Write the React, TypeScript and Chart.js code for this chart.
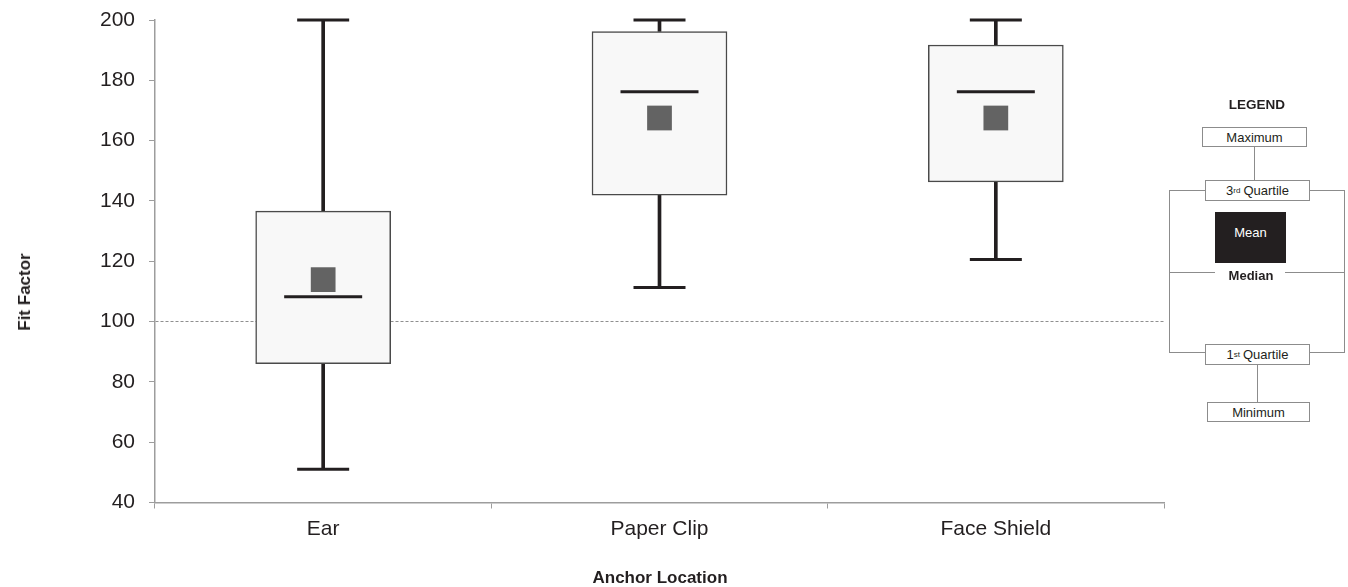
import React, { useEffect, useRef } from 'react';
import { Chart, registerables } from 'chart.js';

Chart.register(...registerables);

// ---- data ----
const categories = ['Ear', 'Paper Clip', 'Face Shield'];
const maximum = [200, 200, 200];
const thirdQuartile = [136.6, 196.2, 191.7];
const median = [108.2, 176.2, 176.2];
const mean = [113.9, 167.5, 167.5];
const firstQuartile = [86, 141.9, 146.3];
const minimum = [51, 111.3, 120.6];
const referenceValue = 100;
const yMin = 40;
const yMax = 200;
const yStep = 20;

// ---- styles ----
const INK = '#231f20';
const AXIS = '#9d9d9d';
const LEG = '#8c8c8c';
const FONT = "'Liberation Sans', Arial, Helvetica, sans-serif";

const abs = (s: React.CSSProperties): React.CSSProperties => ({ position: 'absolute', ...s });

const legendBox = (left: number, top: number, width: number, height: number): React.CSSProperties =>
  abs({
    left,
    top,
    width,
    height,
    boxSizing: 'border-box',
    border: `1px solid ${LEG}`,
    background: '#fff',
    display: 'flex',
    alignItems: 'center',
    justifyContent: 'center',
    fontFamily: FONT,
    fontSize: 13,
    color: INK,
    whiteSpace: 'nowrap',
  });

const hLine = (left: number, top: number, width: number): React.CSSProperties =>
  abs({ left, top, width, height: 1, background: LEG });
const vLine = (left: number, top: number, height: number): React.CSSProperties =>
  abs({ left, top, width: 1, height, background: LEG });

const supStyle: React.CSSProperties = { fontSize: 8, verticalAlign: 'top', lineHeight: '10px', marginRight: 3 };

export default function App() {
  const ref = useRef<HTMLCanvasElement>(null);

  useEffect(() => {
    const pointSet = (data: number[], style: string, radius: number, extra: any = {}) => ({
      type: 'line' as const,
      data,
      showLine: false,
      pointStyle: style,
      pointRadius: radius,
      pointHoverRadius: radius,
      pointBorderWidth: 3,
      pointBorderColor: INK,
      pointBackgroundColor: INK,
      clip: false,
      order: 1,
      ...extra,
    });

    const chart = new Chart(ref.current!, {
      type: 'bar',
      data: {
        labels: categories,
        datasets: [
          {
            type: 'bar',
            data: categories.map((_, i) => [minimum[i], firstQuartile[i]]),
            backgroundColor: INK,
            borderWidth: 0,
            barThickness: 3,
            grouped: false,
            order: 10,
          },
          {
            type: 'bar',
            data: categories.map((_, i) => [thirdQuartile[i], maximum[i]]),
            backgroundColor: INK,
            borderWidth: 0,
            barThickness: 3,
            grouped: false,
            order: 10,
          },
          {
            type: 'bar',
            data: categories.map((_, i) => [firstQuartile[i], thirdQuartile[i]]),
            backgroundColor: '#f8f8f8',
            borderColor: '#4a4a4a',
            borderWidth: 1.5,
            borderSkipped: false,
            barThickness: 135,
            grouped: false,
            order: 5,
          },
          pointSet(maximum, 'line', 26),
          pointSet(minimum, 'line', 26),
          pointSet(median, 'line', 39),
          pointSet(mean, 'rect', 17.5, {
            pointBorderWidth: 0,
            pointBackgroundColor: '#636363',
            pointBorderColor: '#636363',
          }),
        ] as any,
      },
      options: {
        animation: false,
        responsive: false,
        events: [],
        layout: { autoPadding: false, padding: { left: 0, right: 184, top: 20, bottom: 0 } },
        plugins: { legend: { display: false }, tooltip: { enabled: false }, title: { display: false } },
        scales: {
          x: {
            offset: true,
            grid: {
              offset: true,
              drawOnChartArea: false,
              drawTicks: true,
              tickLength: 6,
              tickColor: AXIS,
              tickWidth: 1,
            },
            border: { color: AXIS, width: 1.5 },
            ticks: {
              font: { family: FONT, size: 21 },
              color: INK,
              padding: 8,
              maxRotation: 0,
            },
            afterFit: (s: any) => {
              s.height = 84.5;
              s.paddingLeft = 0;
              s.paddingRight = 0;
            },
          },
          y: {
            min: yMin,
            max: yMax,
            grid: {
              drawTicks: true,
              tickLength: 6,
              tickColor: AXIS,
              tickWidth: 1,
              lineWidth: 1,
              color: (ctx: any) => (ctx.tick && ctx.tick.value === referenceValue ? '#8f8f8f' : 'rgba(0,0,0,0)'),
            },
            border: { color: AXIS, width: 1.5, dash: [3, 2] },
            ticks: {
              stepSize: yStep,
              font: { family: FONT, size: 21 },
              color: INK,
              padding: 14,
            },
            afterFit: (s: any) => {
              s.width = 155;
              s.paddingTop = 0;
              s.paddingBottom = 0;
            },
          },
        },
      } as any,
    });
    return () => chart.destroy();
  }, []);

  return (
    <div style={abs({ left: 0, top: 0, width: 1348, height: 587, background: '#fff', overflow: 'hidden' })}>
      <canvas ref={ref} width={1348} height={587} style={{ display: 'block', width: 1348, height: 587 }} />

      {/* axis titles */}
      <div
        style={abs({
          left: 25,
          top: 292,
          transform: 'translate(-50%, -50%) rotate(-90deg)',
          fontFamily: FONT,
          fontWeight: 'bold',
          fontSize: 17,
          color: INK,
          whiteSpace: 'nowrap',
        })}
      >
        Fit Factor
      </div>
      <div
        style={abs({
          left: 660,
          top: 578,
          transform: 'translate(-50%, -50%)',
          fontFamily: FONT,
          fontWeight: 'bold',
          fontSize: 17,
          color: INK,
          whiteSpace: 'nowrap',
        })}
      >
        Anchor Location
      </div>

      {/* legend diagram */}
      <div
        style={abs({
          left: 1257,
          top: 104,
          transform: 'translate(-50%, -50%)',
          fontFamily: FONT,
          fontWeight: 'bold',
          fontSize: 13.5,
          color: INK,
        })}
      >
        LEGEND
      </div>
      <div style={vLine(1254, 146, 34)} />
      <div style={vLine(1257, 364, 38)} />
      <div style={vLine(1169, 190, 162)} />
      <div style={vLine(1344, 190, 162)} />
      <div style={hLine(1169, 190, 40)} />
      <div style={hLine(1305, 190, 40)} />
      <div style={hLine(1169, 352, 40)} />
      <div style={hLine(1305, 352, 40)} />
      <div style={hLine(1169, 272, 46)} />
      <div style={hLine(1285, 272, 60)} />
      <div style={legendBox(1202, 127, 105, 20)}>Maximum</div>
      <div style={legendBox(1205, 180, 105, 21)}>
        3<sup style={supStyle}>rd</sup>Quartile
      </div>
      <div
        style={abs({
          left: 1215,
          top: 212,
          width: 71,
          height: 51,
          background: INK,
          color: '#fff',
          fontFamily: FONT,
          fontSize: 13,
          textAlign: 'center',
          paddingTop: 13,
          boxSizing: 'border-box',
        })}
      >
        Mean
      </div>
      <div
        style={abs({
          left: 1251,
          top: 275,
          transform: 'translate(-50%, -50%)',
          fontFamily: FONT,
          fontWeight: 'bold',
          fontSize: 13,
          color: INK,
        })}
      >
        Median
      </div>
      <div style={legendBox(1205, 344, 105, 21)}>
        1<sup style={supStyle}>st</sup>Quartile
      </div>
      <div style={legendBox(1207, 402, 103, 20)}>Minimum</div>
    </div>
  );
}
